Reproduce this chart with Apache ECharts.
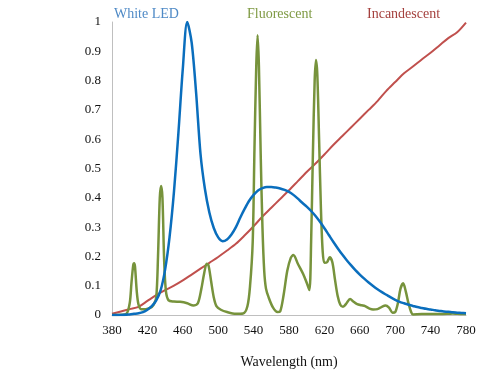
<!DOCTYPE html>
<html>
<head>
<meta charset="utf-8">
<script src="https://cdn.jsdelivr.net/npm/echarts@6/dist/echarts.min.js"></script>
<style>
  html, body { margin: 0; padding: 0; background: #fff; }
  #chart { width: 496px; height: 375px; }
</style>
</head>
<body>
<div id="chart"></div>
<script>
// wavelength grid (nm) for LED / incandescent
const ledWl = [380, 390, 400, 405, 410, 415, 420, 425, 430, 435, 440, 445, 450, 455, 460, 465, 470, 475, 480, 485, 490, 495, 500, 505, 510, 515, 520, 525, 530, 535, 540, 545, 550, 555, 560, 565, 570, 575, 580, 585, 590, 595, 600, 605, 610, 615, 620, 625, 630, 635, 640, 645, 650, 655, 660, 665, 670, 675, 680, 685, 690, 695, 700, 705, 710, 715, 720, 725, 730, 735, 740, 745, 750, 755, 760, 765, 770, 775, 780]
const ledVal = [0, 0, 0.002, 0.004, 0.006, 0.01, 0.018, 0.03, 0.05, 0.085, 0.155, 0.265, 0.42, 0.62, 0.84, 1.0, 0.93, 0.76, 0.55, 0.43, 0.35, 0.297, 0.265, 0.252, 0.258, 0.275, 0.3, 0.333, 0.363, 0.39, 0.41, 0.425, 0.433, 0.437, 0.437, 0.435, 0.432, 0.427, 0.42, 0.41, 0.397, 0.383, 0.37, 0.355, 0.338, 0.318, 0.296, 0.273, 0.25, 0.228, 0.207, 0.188, 0.17, 0.153, 0.138, 0.124, 0.111, 0.099, 0.088, 0.078, 0.069, 0.06, 0.052, 0.045, 0.04, 0.035, 0.031, 0.027, 0.024, 0.021, 0.019, 0.016, 0.014, 0.012, 0.011, 0.009, 0.008, 0.007, 0.006]

const incWl = [380, 390, 400, 410, 420, 430, 440, 450, 460, 470, 480, 490, 500, 510, 520, 530, 540, 550, 560, 570, 580, 590, 600, 610, 620, 630, 640, 650, 660, 670, 680, 690, 700, 710, 720, 730, 740, 750, 760, 770, 780]
const incVal = [0.004, 0.012, 0.02, 0.028, 0.048, 0.068, 0.085, 0.1, 0.118, 0.138, 0.158, 0.178, 0.198, 0.22, 0.243, 0.272, 0.303, 0.336, 0.366, 0.396, 0.426, 0.457, 0.488, 0.517, 0.548, 0.58, 0.61, 0.64, 0.67, 0.7, 0.73, 0.765, 0.795, 0.825, 0.848, 0.872, 0.895, 0.92, 0.945, 0.965, 0.998]

// fluorescent spectrum has narrow lines, so it is sampled unevenly
const fluWl = [380, 390, 396, 400, 402, 404, 405, 406, 408, 410, 413, 418, 423, 427, 430, 432, 434, 435.5, 437, 439, 441, 444, 450, 457, 465, 472, 477, 481, 484, 487, 489, 492, 495, 498, 503, 510, 520, 528, 533, 536, 539, 541, 543, 544.5, 546, 548, 550, 552, 554, 557, 562, 567, 570, 574, 578, 582, 585, 590, 596, 600, 603, 605, 607, 609, 610.5, 612, 614, 616, 618, 620, 623, 626, 629, 632, 635, 638, 641, 645, 649, 653, 657, 662, 666, 671, 675, 680, 685, 689, 693, 697, 700, 703, 706, 709, 712, 715, 718, 720, 730, 740, 750, 760, 765, 770, 780]
const fluVal = [0, 0.001, 0.003, 0.04, 0.11, 0.17, 0.177, 0.165, 0.08, 0.035, 0.02, 0.02, 0.024, 0.035, 0.06, 0.2, 0.4, 0.44, 0.4, 0.18, 0.08, 0.05, 0.046, 0.045, 0.04, 0.032, 0.04, 0.09, 0.14, 0.175, 0.17, 0.115, 0.06, 0.03, 0.018, 0.01, 0.004, 0.005, 0.03, 0.1, 0.25, 0.57, 0.85, 0.955, 0.85, 0.55, 0.3, 0.15, 0.09, 0.06, 0.025, 0.01, 0.012, 0.07, 0.15, 0.195, 0.205, 0.175, 0.14, 0.11, 0.085, 0.25, 0.55, 0.8, 0.87, 0.82, 0.6, 0.37, 0.22, 0.178, 0.18, 0.197, 0.18, 0.12, 0.065, 0.035, 0.028, 0.04, 0.055, 0.045, 0.037, 0.033, 0.03, 0.022, 0.019, 0.02, 0.028, 0.032, 0.025, 0.008, 0.01, 0.04, 0.09, 0.108, 0.08, 0.04, 0.01, 0.002, 0.003, 0.003, 0.003, 0.004, 0.005, 0.004, 0.003]

const xTicks = [380, 420, 460, 500, 540, 580, 620, 660, 700, 740, 780]
const seriesNames = ['White LED', 'Fluorescent', 'Incandescent']

const pairs = (xs, ys) => xs.map((x, i) => [x, ys[i]])

const chart = echarts.init(document.getElementById('chart'))
const font = 'Liberation Serif, Times New Roman, serif'

chart.setOption({
  animation: false,
  grid: { left: 112, right: 30, top: 22, bottom: 60 },
  xAxis: {
    type: 'value',
    min: xTicks[0],
    max: xTicks[xTicks.length - 1],
    interval: 40,
    name: 'Wavelength (nm)',
    nameLocation: 'middle',
    nameGap: 40,
    nameTextStyle: { fontFamily: font, fontSize: 14, color: '#111' },
    axisLine: { lineStyle: { color: '#bfbfbf', width: 1 } },
    axisTick: { show: false },
    splitLine: { show: false },
    axisLabel: { fontFamily: font, fontSize: 13, color: '#111', margin: 9 }
  },
  yAxis: {
    type: 'value',
    min: 0,
    max: 1,
    interval: 0.1,
    axisLine: { show: true, lineStyle: { color: '#bfbfbf', width: 1 } },
    axisTick: { show: false },
    splitLine: { show: false },
    axisLabel: { fontFamily: font, fontSize: 13, color: '#111', margin: 11 }
  },
  series: [
    {
      name: seriesNames[0], type: 'line', data: pairs(ledWl, ledVal),
      smooth: 0.3, showSymbol: false, z: 3,
      lineStyle: { color: '#0a6ebd', width: 2.5 }
    },
    {
      name: seriesNames[1], type: 'line', data: pairs(fluWl, fluVal),
      smooth: 0.3, showSymbol: false, z: 2,
      lineStyle: { color: '#77933c', width: 2.5 }
    },
    {
      name: seriesNames[2], type: 'line', data: pairs(incWl, incVal),
      smooth: 0.3, showSymbol: false, z: 1,
      lineStyle: { color: '#c0504d', width: 2 }
    }
  ],
  graphic: [
    { type: 'text', left: 114, top: 7, style: { text: seriesNames[0], fill: '#4f8ac6', font: '14px ' + font } },
    { type: 'text', left: 247, top: 7, style: { text: seriesNames[1], fill: '#7f9a44', font: '14px ' + font } },
    { type: 'text', left: 367, top: 7, style: { text: seriesNames[2], fill: '#a4403d', font: '14px ' + font } }
  ]
})
</script>
</body>
</html>
